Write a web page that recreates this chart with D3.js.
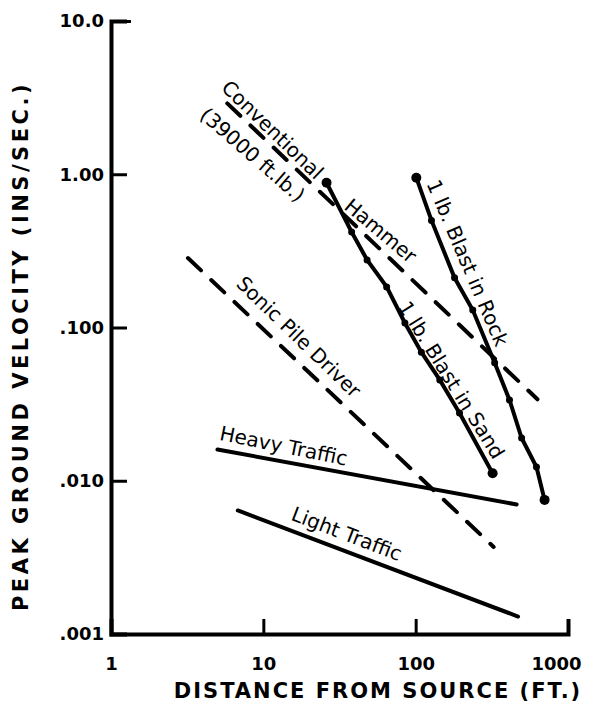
<!DOCTYPE html>
<html>
<head>
<meta charset="utf-8">
<script src="https://cdn.jsdelivr.net/npm/d3@7"></script>
<style>
  body { margin: 0; background: #fff; }
  svg { display: block; }
  text { font-family: "DejaVu Sans", sans-serif; fill: #000; }
</style>
</head>
<body>
<svg id="chart"></svg>
<script>
// axis ticks
const xTicks = [1, 10, 100, 1000];
const xTickLabels = ["1", "10", "100", "1000"];
const yTicks = [0.001, 0.01, 0.1, 1, 10];
const yTickLabels = [".001", ".010", ".100", "1.00", "10.0"];

// series (distance ft, velocity in/s)
const hammerX = [5.8, 630];
const hammerY = [2.9, 0.034];

const sandX = [26, 38, 48, 64.5, 85, 109, 144, 194, 320];
const sandY = [0.88, 0.42, 0.276, 0.184, 0.107, 0.069, 0.0455, 0.0277, 0.0112];

const rockX = [101, 127, 180, 237, 330, 413, 496, 621, 702];
const rockY = [0.95, 0.50, 0.211, 0.130, 0.0588, 0.0337, 0.019, 0.0123, 0.0075];

const sonicX = [3.2, 325];
const sonicY = [0.284, 0.0037];

const heavyX = [5, 460];
const heavyY = [0.016, 0.0070];

const lightX = [6.8, 470];
const lightY = [0.0064, 0.0013];

// curve labels: text, anchor (data units), angle
const labelText = ["Conventional", "(39000 ft.lb.)", "Hammer", "1 lb. Blast in Rock",
                   "1 lb. Blast in Sand", "Sonic Pile Driver", "Heavy Traffic", "Light Traffic"];
const labelX = [11.5, 8.5, 58.9, 219, 172, 17.1, 13.6, 35.3];
const labelY = [1.95, 1.34, 0.428, 0.264, 0.0455, 0.0869, 0.0169, 0.0045];
const labelAngle = [44, 41, 40, 67, 58, 44, 11.5, 21];

const width = 592, height = 703;
const svg = d3.select("#chart").attr("width", width).attr("height", height);

const x = d3.scaleLog().domain([1, 1000]).range([111, 568]);
const y = d3.scaleLog().domain([0.001, 10]).range([634, 21]);

// axes
const yAxis = d3.axisLeft(y).tickValues(yTicks).tickSize(-16).tickPadding(7)
    .tickFormat((d, i) => yTickLabels[i]);
const gy = svg.append("g").attr("transform", "translate(111,0)").call(yAxis);

const xAxis = d3.axisBottom(x).tickValues(xTicks).tickSize(-15).tickPadding(23)
    .tickFormat((d, i) => xTickLabels[i]);
const gx = svg.append("g").attr("transform", "translate(0,634)").call(xAxis);

[gx, gy].forEach(g => {
    g.select(".domain").attr("stroke", "#000").attr("stroke-width", 4);
    g.selectAll(".tick line").attr("stroke", "#000").attr("stroke-width", 3);
    g.selectAll(".tick text").style("font-size", "18px").style("font-weight", "bold")
        .style("font-family", "DejaVu Sans, sans-serif");
});
gy.select(".tick:last-of-type line").attr("x2", 20);
gx.select(".tick:first-of-type line").remove();
// the "1000" label sits a little left of its tick in the original
gx.select(".tick:last-of-type text").attr("dx", -12);

// axis titles
svg.append("text")
    .attr("x", 378).attr("y", 698)
    .attr("text-anchor", "middle")
    .style("font-size", "21px").style("font-weight", "bold").style("letter-spacing", "2px")
    .text("DISTANCE FROM SOURCE (FT.)");

svg.append("text")
    .attr("transform", "translate(28,346) rotate(-90)")
    .attr("text-anchor", "middle")
    .style("font-size", "21px").style("font-weight", "bold").style("letter-spacing", "3.5px")
    .text("PEAK GROUND VELOCITY  (INS/SEC.)");

// lines
const line = d3.line().x(d => x(d[0])).y(d => y(d[1]));

function drawSeries(xs, ys, dashed, dots) {
    const pts = xs.map((v, i) => [v, ys[i]]);
    svg.append("path")
        .datum(pts)
        .attr("d", line)
        .attr("fill", "none")
        .attr("stroke", "#000")
        .attr("stroke-width", 4)
        .attr("stroke-linecap", "round")
        .attr("stroke-dasharray", dashed ? "18,14" : null);
    if (dots) {
        svg.selectAll(null)
            .data(pts)
            .enter()
            .append("circle")
            .attr("cx", d => x(d[0]))
            .attr("cy", d => y(d[1]))
            .attr("r", (d, i) => (i === 0 || i === pts.length - 1) ? 5 : 3.5)
            .attr("fill", "#000");
    }
}

drawSeries(hammerX, hammerY, true, false);
drawSeries(sandX, sandY, false, true);
drawSeries(rockX, rockY, false, true);
drawSeries(sonicX, sonicY, true, false);
drawSeries(heavyX, heavyY, false, false);
drawSeries(lightX, lightY, false, false);

// curve labels
labelText.forEach((t, i) => {
    svg.append("text")
        .attr("transform", `translate(${x(labelX[i])},${y(labelY[i])}) rotate(${labelAngle[i]})`)
        .attr("text-anchor", "middle")
        .attr("dominant-baseline", "central")
        .style("font-size", "20px")
        .text(t);
});
</script>
</body>
</html>
